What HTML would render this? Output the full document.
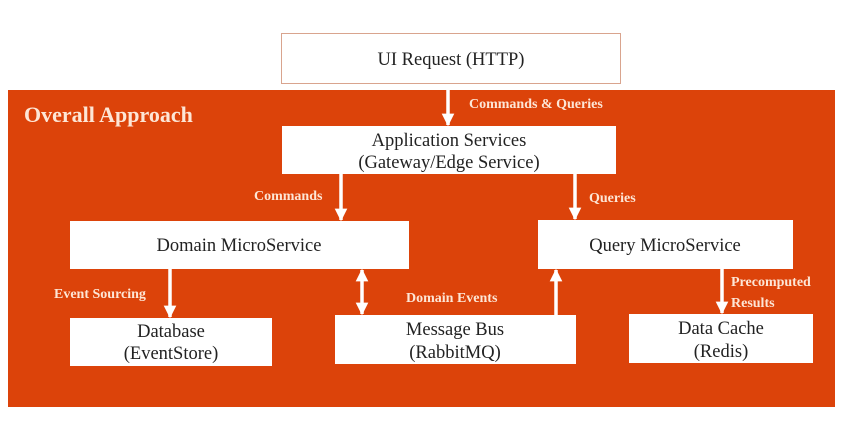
<!DOCTYPE html>
<html><head><meta charset="utf-8"><style>
html,body{margin:0;padding:0;background:#fff;width:859px;height:424px;overflow:hidden}
svg{display:block}
.b{font-family:"Liberation Serif",serif;font-size:18.5px;fill:#222}
.l{font-family:"Liberation Serif",serif;font-size:14px;font-weight:bold;fill:#fde6d6}
</style></head><body>
<svg width="859" height="424" viewBox="0 0 859 424">
<defs>
<marker id="a" viewBox="0 0 10 10" refX="9" refY="5" markerWidth="3.6" markerHeight="3.6" orient="auto-start-reverse" markerUnits="strokeWidth"><path d="M0,0L10,5L0,10z" fill="#fff"/></marker>
</defs>
<rect x="281.5" y="33.5" width="339" height="50" fill="#fff" stroke="#d9a48e" stroke-width="1"/>
<text class="b" x="451" y="65" text-anchor="middle">UI Request (HTTP)</text>
<rect x="8" y="90" width="827" height="317" fill="#dc430a"/>
<text x="24" y="122" font-family="Liberation Serif,serif" font-size="22" font-weight="bold" fill="#fde6d6">Overall Approach</text>
<g stroke="#fff" stroke-width="3.5" fill="none" marker-end="url(#a)">
<line x1="448" y1="90" x2="448" y2="125"/>
<line x1="341" y1="174" x2="341" y2="220"/>
<line x1="575" y1="174" x2="575" y2="219"/>
<line x1="170" y1="269" x2="170" y2="317"/>
<line x1="362" y1="270" x2="362" y2="314" marker-start="url(#a)"/>
<line x1="556" y1="315" x2="556" y2="270"/>
<line x1="722" y1="269" x2="722" y2="313"/>
</g>
<rect x="282" y="126" width="334" height="48" fill="#fff"/>
<text class="b" x="449" y="146" text-anchor="middle">Application Services</text>
<text class="b" x="449" y="168" text-anchor="middle">(Gateway/Edge Service)</text>
<rect x="70" y="221" width="339" height="48" fill="#fff"/>
<text class="b" x="239" y="251" text-anchor="middle">Domain MicroService</text>
<rect x="538" y="220" width="255" height="49" fill="#fff"/>
<text class="b" x="665" y="251" text-anchor="middle">Query MicroService</text>
<rect x="70" y="318" width="202" height="48" fill="#fff"/>
<text class="b" x="171" y="337" text-anchor="middle">Database</text>
<text class="b" x="171" y="359" text-anchor="middle">(EventStore)</text>
<rect x="335" y="315" width="241" height="49" fill="#fff"/>
<text class="b" x="455" y="335" text-anchor="middle">Message Bus</text>
<text class="b" x="455" y="358" text-anchor="middle">(RabbitMQ)</text>
<rect x="629" y="314" width="184" height="49" fill="#fff"/>
<text class="b" x="721" y="334" text-anchor="middle">Data Cache</text>
<text class="b" x="721" y="357" text-anchor="middle">(Redis)</text>
<text class="l" x="469" y="108">Commands &amp; Queries</text>
<text class="l" x="254" y="200">Commands</text>
<text class="l" x="589" y="202">Queries</text>
<text class="l" x="54" y="298">Event Sourcing</text>
<text class="l" x="406" y="302">Domain Events</text>
<text class="l" x="731" y="286">Precomputed</text>
<text class="l" x="731" y="307">Results</text>
</svg>
</body></html>
